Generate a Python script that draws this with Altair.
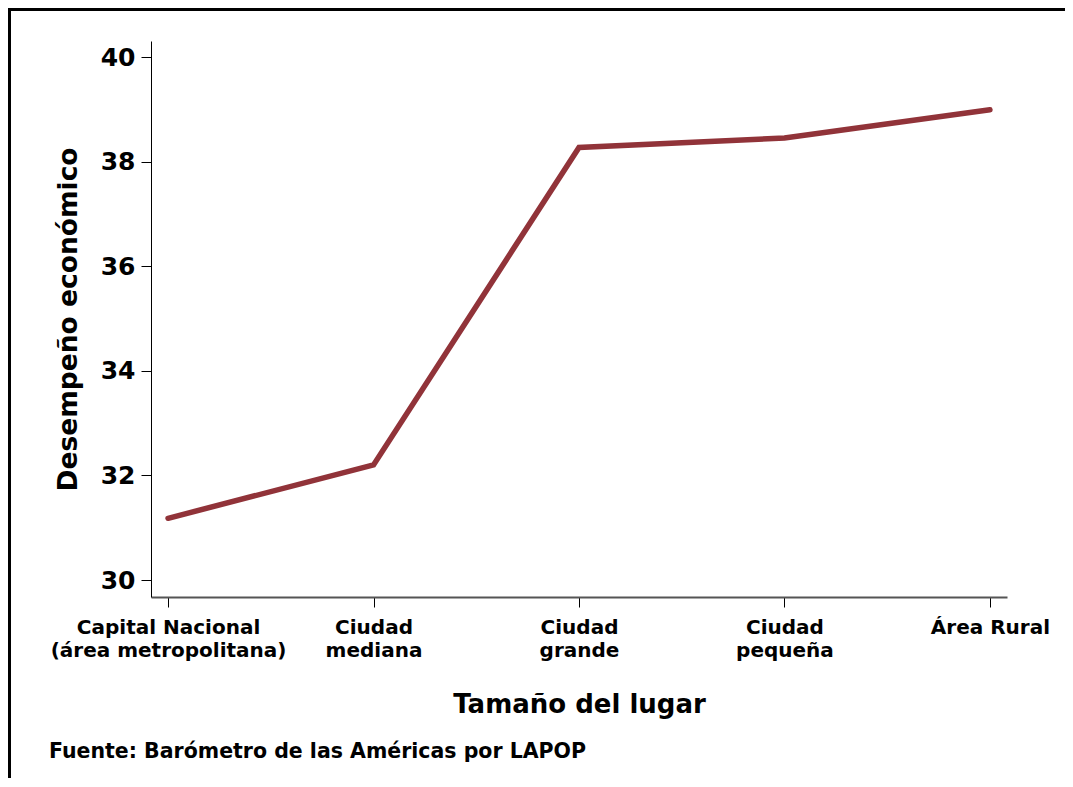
import altair as alt
import pandas as pd

categories = ["Capital Nacional|(área metropolitana)", "Ciudad|mediana", "Ciudad|grande", "Ciudad|pequeña", "Área Rural"]
values = [31.18, 32.20, 38.27, 38.45, 38.99]
y_ticks = [30, 32, 34, 36, 38, 40]

df = pd.DataFrame({"cat": categories, "val": values})

FONT = "DejaVu Sans"
WEIGHT = "bold"
W, H = 856, 556
PL, PT = 143, 33
TOTAL_W, TOTAL_H = 1057, 770

line = alt.Chart(df).mark_line(color="#913339", strokeWidth=5.5, strokeCap="round").encode(
    x=alt.X("cat:N", sort=categories,
            scale=alt.Scale(type="point", padding=0.083),
            axis=alt.Axis(title="Tamaño del lugar", labelAngle=0,
                          labelExpr="split(datum.label, '|')",
                          labelFont=FONT, labelFontSize=20, labelFontWeight=WEIGHT,
                          labelColor="black", labelLineHeight=23, labelPadding=10,
                          labelBaseline="top", labelLimit=0,
                          tickSize=10, tickColor="black", tickWidth=1,
                          domainColor="#555555", domainWidth=2,
                          titleFont=FONT, titleFontSize=26, titleFontWeight=WEIGHT,
                          titleColor="black", titlePadding=31, grid=False)),
    y=alt.Y("val:Q", scale=alt.Scale(domain=[29.675, 40.306], nice=False, zero=False),
            axis=alt.Axis(title="Desempeño económico", values=y_ticks,
                          labelFont=FONT, labelFontSize=25, labelFontWeight=WEIGHT,
                          labelColor="black", labelPadding=6,
                          tickSize=10, tickColor="black", tickWidth=1,
                          domainColor="black", domainWidth=1,
                          titleFont=FONT, titleFontSize=26.5, titleFontWeight=WEIGHT,
                          titleColor="black", titlePadding=18, grid=False)),
)

frame = alt.Chart(pd.DataFrame({"a": [0]})).mark_rect(
    fill="transparent", stroke="black", strokeWidth=3
).encode(
    x=alt.value(-PL + 1.5), x2=alt.value(3000),
    y=alt.value(-PT + 1.5), y2=alt.value(3000),
)

source = alt.Chart(pd.DataFrame({"t": ["Fuente: Barómetro de las Américas por LAPOP"]})).mark_text(
    font=FONT, fontSize=20.5, fontWeight=WEIGHT, color="black", align="left", baseline="middle"
).encode(
    x=alt.value(49 - 151), y=alt.value(752 - 41), text="t:N"
)

chart = alt.layer(line, frame, source).properties(
    width=W, height=H,
    autosize=alt.AutoSizeParams(type="none"),
    padding={"left": PL, "top": PT, "right": TOTAL_W - PL - W, "bottom": TOTAL_H - PT - H},
).configure_view(stroke=None)

chart.save("out.html", embed_options={"renderer": "svg", "actions": False})
